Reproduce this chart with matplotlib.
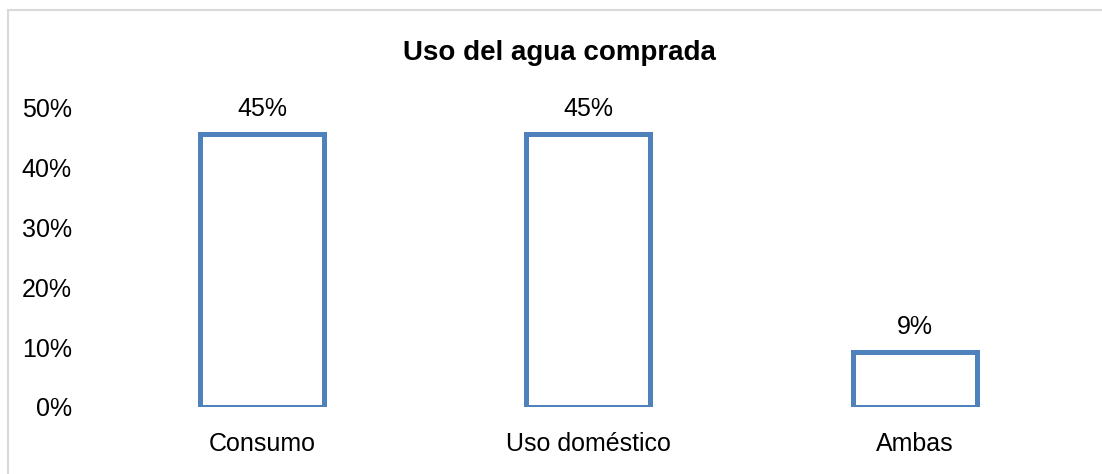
import matplotlib
matplotlib.use("Agg")
from matplotlib import pyplot as plt
from matplotlib.patches import Rectangle
from matplotlib.ticker import FuncFormatter

categories = ["Consumo", "Uso doméstico", "Ambas"]
values = [0.4545, 0.4545, 0.0909]
labels = ["45%", "45%", "9%"]
yticks = [0.0, 0.1, 0.2, 0.3, 0.4, 0.5]

plt.rcParams["font.family"] = ["Liberation Sans Narrow", "Liberation Sans", "DejaVu Sans"]

fig = plt.figure(figsize=(11.02, 4.74), dpi=100)
ax = fig.add_axes([0.0898, 0.1414, 0.8882, 0.6326])

x = range(len(categories))
bars = ax.bar(x, values, width=0.38, facecolor="white", edgecolor="#4F81BD", linewidth=3.6)
for b, lab in zip(bars, labels):
    ax.text(b.get_x() + b.get_width() / 2, b.get_height() + 0.022, lab,
            ha="center", va="bottom", fontsize=18)

ax.set_xlim(-0.5, 2.5)
ax.set_ylim(0, 0.5)
ax.set_yticks(yticks)
ax.yaxis.set_major_formatter(FuncFormatter(lambda v, p: f"{v * 100:.0f}%"))
ax.set_xticks(list(x))
ax.set_xticklabels(categories)
ax.tick_params(axis="both", length=0, labelsize=18)
ax.tick_params(axis="y", pad=19.5)
ax.tick_params(axis="x", pad=18)
for s in ax.spines.values():
    s.set_visible(False)

fig.text(0.508, 0.888, "Uso del agua comprada", ha="center", va="center",
         fontsize=20, fontweight="bold")

fig.patches.append(Rectangle((8 / 1102, -0.1), 1.2, 1 - 10 / 474 + 0.1,
                             transform=fig.transFigure, fill=False,
                             edgecolor="#D9D9D9", linewidth=1.5))

fig.savefig("out.png", dpi=100)
plt.close(fig)
